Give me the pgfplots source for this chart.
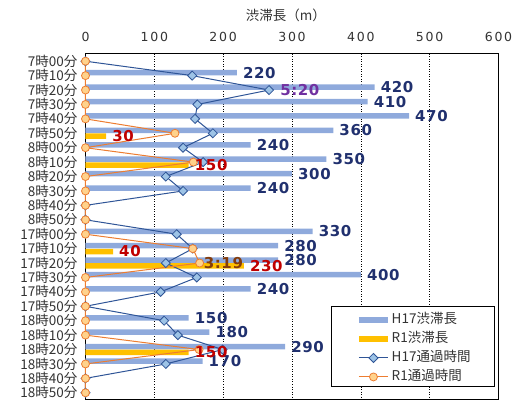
\documentclass[border=0pt]{standalone}
\usepackage{pgfplots}
\pgfplotsset{compat=1.18}
\usepackage{fontspec}
\setmainfont{Noto Sans CJK JP}
\newfontfamily\ticknum{DejaVu Sans}[LetterSpace=14]
\newfontfamily\labnum{DejaVu Sans}[LetterSpace=4]

\definecolor{barH}{RGB}{143,170,220}
\definecolor{barR}{RGB}{255,192,0}
\definecolor{lineH}{RGB}{47,85,151}
\definecolor{markH}{RGB}{157,195,230}
\definecolor{lineR}{RGB}{237,125,49}
\definecolor{markR}{RGB}{255,210,140}
\definecolor{labH}{RGB}{32,48,110}
\definecolor{labR}{RGB}{192,0,0}
\definecolor{labT}{RGB}{112,48,160}
\definecolor{labB}{RGB}{132,60,12}
\definecolor{txt}{RGB}{51,51,51}

\newcommand\catfont{\fontsize{13.5}{16}\selectfont}
\newcommand\numlab{\labnum\bfseries\fontsize{15}{17}\selectfont}

\pgfplotsset{
  base/.style={
    at={(0,0)}, anchor=south west, scale only axis,
    width=413pt, height=346pt,
    ymin=-0.5, ymax=23.5, y dir=reverse,
    clip=false,
  },
  legend image code/.code={\draw[mark repeat=2, mark phase=2, #1]
    plot coordinates {(0pt,0pt) (14.5pt,0pt) (29pt,0pt)};},
}

\begin{document}
\begin{tikzpicture}
\path[use as bounding box] (-85.5pt,-1pt) rectangle (429.5pt,400pt);

% bars, frame, grid and tick labels
\begin{axis}[base,
  xmin=0, xmax=600,
  xtick={0,100,200,300,400,500,600},
  xticklabels={},
  ytick={0,...,23},
  yticklabels={7時00分,7時10分,7時20分,7時30分,7時40分,7時50分,
    8時00分,8時10分,8時20分,8時30分,8時40分,8時50分,
    17時00分,17時10分,17時20分,17時30分,17時40分,17時50分,
    18時00分,18時10分,18時20分,18時30分,18時40分,18時50分},
  yticklabel style={font=\catfont, text=txt, anchor=east, inner sep=0pt, xshift=-8pt},
  xmajorgrids,
  major grid style={black, line width=0.6pt, dash pattern=on 1pt off 1.5pt},
  major tick length=0pt,
  axis line style={black, line width=1pt},
]
% H17 congestion length (m)
\addplot[xbar, bar width=5.5pt, bar shift=2.9pt, fill=barH, draw=none] coordinates {
  (220,1) (420,2) (410,3) (470,4) (360,5) (240,6) (350,7) (300,8) (240,9)
  (330,12) (280,13) (280,14) (400,15) (240,16)
  (150,18) (180,19) (290,20) (170,21)};
% R1 congestion length (m)
\addplot[xbar, bar width=5.5pt, bar shift=-2.9pt, fill=barR, draw=none] coordinates {
  (30,5) (150,7) (40,13) (230,14) (150,20)};
% horizontal scale, set above the frame
\pgfplotsinvokeforeach{0,100,200,300,400,500,600}{
  \node[anchor=base, inner sep=0pt, text=txt, font=\ticknum\fontsize{12.5}{14}\selectfont,
    yshift=12pt] at (axis cs:#1,-0.5) {#1};
}
\node[anchor=base, inner sep=0pt, text=txt, font=\catfont, yshift=33.5pt]
  at (axis cs:291,-0.5) {渋滞長（m）};
\end{axis}

% travel times (seconds, 0 to 12 minutes)
\begin{axis}[base, xmin=0, xmax=720, hide axis]
\addplot[lineH, line width=1pt, mark=square*, mark size=3.2pt,
  mark options={rotate=45, fill=markH, draw=lineH, line width=0.8pt}] coordinates {
  (0,0) (186,1) (320,2) (195,3) (191,4) (222,5) (170,6) (205,7) (140,8) (170,9)
  (0,10) (0,11) (159,12) (187,13) (140,14) (194,15) (131,16) (0,17)
  (137,18) (161,19) (239,20) (140,21) (0,22) (0,23)};
\addplot[lineR, line width=1pt, mark=*, mark size=4pt,
  mark options={fill=markR, draw=lineR, line width=0.8pt}] coordinates {
  (0,0) (0,1) (0,2) (0,3) (0,4) (156,5) (0,6) (188,7) (0,8) (0,9)
  (0,10) (0,11) (0,12) (187,13) (199,14) (0,15) (0,16) (0,17)
  (0,18) (0,19) (198,20) (0,21) (0,22) (0,23)};
% time labels
\addplot[draw=none, point meta=explicit symbolic, nodes near coords,
  every node near coord/.append style={anchor=west, inner sep=0pt, xshift=11pt,
    text=labT, font=\numlab}] coordinates {(320,2) [5:20]};
\addplot[draw=none, point meta=explicit symbolic, nodes near coords,
  every node near coord/.append style={anchor=west, inner sep=0pt, xshift=4pt,
    text=labB, font=\numlab}] coordinates {(199,14) [3:19]};
\end{axis}

% value labels and legend
\begin{axis}[base, xmin=0, xmax=600, hide axis,
  /pgf/number format/assume math mode=true,
  legend cell align=left,
  legend style={draw=none, fill=none, at={(axis description cs:0.655,0.2536)},
    anchor=north west, inner sep=0pt, row sep=4pt, column sep=0pt,
    nodes={inner sep=1pt, text height=10pt, text depth=3pt, font=\catfont, text=txt}},
]
\addlegendimage{barH, line width=5.5pt}
\addlegendentry{H17渋滞長}
\addlegendimage{barR, line width=5.5pt}
\addlegendentry{R1渋滞長}
\addlegendimage{lineH, line width=1pt, mark=square*, mark size=3.2pt,
  mark options={rotate=45, fill=markH, draw=lineH, line width=0.8pt}}
\addlegendentry{H17通過時間}
\addlegendimage{lineR, line width=1pt, mark=*, mark size=4pt,
  mark options={fill=markR, draw=lineR, line width=0.8pt}}
\addlegendentry{R1通過時間}
\draw[black, line width=0.8pt, fill=white]
  (axis description cs:0.5944,0.0389) rectangle (axis description cs:0.9891,0.2695);
\addplot[forget plot, draw=none, point meta=x, nodes near coords,
  every node near coord/.append style={anchor=west, inner sep=0pt, xshift=6pt,
    yshift=2.9pt, text=labH, font=\numlab}] coordinates {
  (220,1) (420,2) (410,3) (470,4) (360,5) (240,6) (350,7) (300,8) (240,9)
  (330,12) (280,13) (280,14) (400,15) (240,16)
  (150,18) (180,19) (290,20) (170,21)};
\addplot[forget plot, draw=none, point meta=x, nodes near coords,
  every node near coord/.append style={anchor=west, inner sep=0pt, xshift=6pt,
    yshift=-2.9pt, text=labR, font=\numlab}] coordinates {
  (30,5) (150,7) (40,13) (230,14) (150,20)};
\end{axis}
\end{tikzpicture}
\end{document}
